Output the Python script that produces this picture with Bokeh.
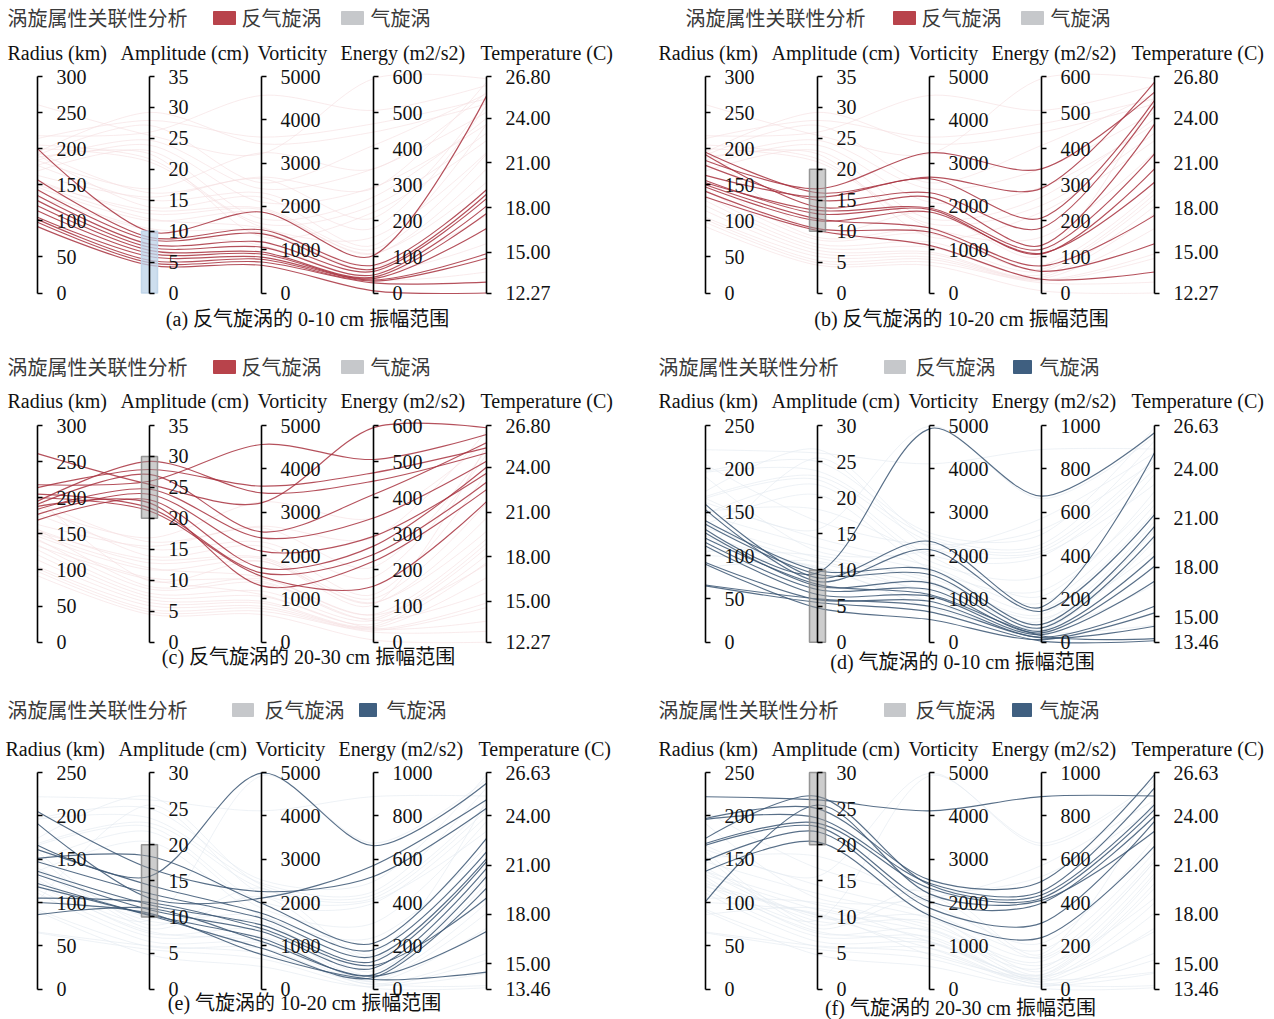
import math

from bokeh.core.properties import value
from bokeh.embed import file_html
from bokeh.models import FixedTicker, LinearAxis, PrintfTickFormatter, Range1d
from bokeh.plotting import figure
from bokeh.resources import INLINE

# ---------------------------------------------------------------- data ----
TITLE = "涡旋属性关联性分析"
SERIES_NAMES = ["反气旋涡", "气旋涡"]
DIM_NAMES = ["Radius (km)", "Amplitude (cm)", "Vorticity", "Energy (m2/s2)", "Temperature (C)"]

# anticyclonic eddies
ac_radius = [200, 157, 143, 135, 128, 121, 114, 105, 102, 98, 92,
             183.7, 195, 163, 176.8, 191.5, 152.8, 156, 146.8, 140.8, 133, 150,
             261, 218, 214, 195, 191, 184, 177, 169, 205, 200, 188]
ac_amplitude = [9.9, 9.0, 8.6, 7.9, 7.4, 6.9, 6.4, 5.9, 5.3, 4.9, 4.5,
                16.85, 16.2, 15.5, 15.0, 13.9, 13.35, 12.8, 11.7, 10.4, 10.1, 12.0,
                25.5, 26.0, 27.9, 29.2, 27.1, 24.7, 23.9, 23.0, 21.7, 21.2, 22.5]
ac_vorticity = [1870, 1460, 1370, 1180, 1060, 946, 900, 830, 780, 715, 640,
                3238, 2677, 2638, 2315, 2215, 1962, 1930, 1870, 1408, 1100, 1500,
                3215, 4562, 3600, 3446, 2546, 2408, 2100, 1715, 1600, 1523, 1300]
ac_energy = [104, 77, 66, 60, 50, 44, 40, 36, 33, 28, 6,
             344, 290, 208, 180, 132, 121, 108, 110, 60, 38, 75,
             594, 506, 469, 446, 409, 344, 293, 266, 243, 155, 224]
ac_temperature = [25.5, 19.2, 18.9, 18.6, 18.1, 17.6, 16.6, 14.9, 14.6, 13.0, 12.27,
                  25.75, 26.43, 25.2, 24.86, 23.6, 21.6, 20.6, 19.7, 15.58, 13.68, 17.48,
                  26.65, 26.2, 25.3, 24.96, 25.64, 24.4, 23.6, 24.0, 23.0, 21.7, 22.5]

# cyclonic eddies
cy_radius = [130, 159, 153, 140, 136, 126, 115, 111, 92, 90, 66, 65, 120,
             166, 205, 191, 151, 161, 147, 136, 132, 122, 118, 105, 86, 100,
             222, 197, 196, 174, 168, 166, 148, 136, 101]
cy_amplitude = [9.6, 8.9, 8.4, 9.9, 9.4, 7.75, 7.3, 6.6, 5.9, 4.75, 6.0, 5.5, 8.0,
                15.6, 16.75, 12.6, 18.4, 14.4, 13.25, 11.7, 11.0, 10.3, 10.2, 12.0, 11.2, 10.5,
                26.2, 25.0, 23.7, 26.7, 23.0, 22.5, 21.8, 20.4, 25.5]
cy_vorticity = [4923, 2330, 2138, 1677, 1562, 1370, 1215, 1062, 946, 523, 830, 700, 1100,
                4985, 2254, 2100, 1985, 1754, 1638, 1485, 1330, 1177, 946, 1400, 1100, 800,
                4115, 2523, 2446, 2408, 2330, 2023, 1870, 1700, 2200]
cy_energy = [674, 162, 143, 82, 66, 51, 43, 35, 23, 12, 20, 5, 30,
             662, 520, 571, 212, 181, 151, 128, 97, 66, 54, 110, 60, 45,
             889, 497, 451, 435, 420, 397, 305, 238, 410]
cy_temperature = [26.19, 24.97, 21.22, 20.5, 19.9, 18.7, 18.08, 17.17, 15.65, 15.24, 14.43, 13.55, 13.68,
                  25.98, 24.46, 24.97, 22.63, 21.8, 21.4, 21.22, 20.8, 20.3, 19.6, 19.0, 16.97, 14.5,
                  25.2, 26.5, 25.7, 24.68, 24.37, 23.97, 23.66, 22.15, 23.06]

# axis extents and tick values
ac_min = [0, 0, 0, 0, 12.27]
ac_max = [300, 35, 5000, 600, 26.80]
ac_ticks = [[0, 50, 100, 150, 200, 250, 300],
            [0, 5, 10, 15, 20, 25, 30, 35],
            [0, 1000, 2000, 3000, 4000, 5000],
            [0, 100, 200, 300, 400, 500, 600],
            [12.27, 15, 18, 21, 24, 26.80]]
cy_min = [0, 0, 0, 0, 13.46]
cy_max = [250, 30, 5000, 1000, 26.63]
cy_ticks = [[0, 50, 100, 150, 200, 250],
            [0, 5, 10, 15, 20, 25, 30],
            [0, 1000, 2000, 3000, 4000, 5000],
            [0, 200, 400, 600, 800, 1000],
            [13.46, 15, 18, 21, 24, 26.63]]

# amplitude window selected in each panel
panel_kind = ["ac", "ac", "ac", "cy", "cy", "cy"]
brush_low = [0, 10, 20, 0, 10, 20]
brush_high = [10, 20, 30, 10, 20, 30]
captions = ["(a) 反气旋涡的 0-10 cm 振幅范围", "(b) 反气旋涡的 10-20 cm 振幅范围",
            "(c) 反气旋涡的 20-30 cm 振幅范围", "(d) 气旋涡的 0-10 cm 振幅范围",
            "(e) 气旋涡的 10-20 cm 振幅范围", "(f) 气旋涡的 20-30 cm 振幅范围"]

# -------------------------------------------------------------- layout ----
W, H = 1274, 1019
ROW_TOP = [76, 425, 772]
ROW_BOT = [292.5, 641.7, 988.7]
COL_AXIS_X = [[37, 149, 261, 373, 486], [705, 817, 929, 1041, 1154]]
PANEL_POS = [(0, 0), (0, 1), (1, 0), (1, 1), (2, 0), (2, 1)]  # (row, col)

TITLE_XY = [(7, 17), (685, 17), (7, 366), (658, 366), (7, 709), (658, 709)]
# legend: (swatch left, swatch right, text x) for the two entries
LEGEND_X = [[(213, 235, 241), (341, 363, 370)],
            [(893, 915, 921), (1021, 1043, 1050)],
            [(213, 235, 241), (341, 363, 370)],
            [(884, 905, 915), (1013, 1031, 1039)],
            [(232, 253, 264), (359, 376, 386)],
            [(884, 905, 915), (1012, 1031, 1039)]]
NAMES_Y = [52, 52, 400, 400, 748, 748]
NAMES_X = [[7, 120, 257, 340, 480], [658, 771, 908, 991, 1131],
           [7, 120, 257, 340, 480], [658, 771, 908, 991, 1131],
           [5, 118, 255, 338, 478], [658, 771, 908, 991, 1131]]
CAPTION_XY = [(307, 318), (961, 318), (308, 656), (962, 661), (304, 1002), (960, 1007)]

RED, GREY, BLUE = "#b8434b", "#c6c8cb", "#3f5f80"
LINE_ON = {"ac": "#a8323f", "cy": "#3b5673"}
LINE_OFF = {"ac": "#f5dde0", "cy": "#e2e9f0"}
BRUSH_FILL = ["#bcd3e8", "#9c9c9c", "#9c9c9c", "#9c9c9c", "#9c9c9c", "#9c9c9c"]
BRUSH_LINE = ["#bcd3e8", "#8c8c8c", "#8c8c8c", "#8c8c8c", "#8c8c8c", "#8c8c8c"]

LATIN = "Liberation Serif"
CJK = "Noto Sans CJK SC"
MIXED = "Liberation Serif, Noto Sans CJK SC"
SMOOTH = 0.3

DATA = {
    "ac": [ac_radius, ac_amplitude, ac_vorticity, ac_energy, ac_temperature],
    "cy": [cy_radius, cy_amplitude, cy_vorticity, cy_energy, cy_temperature],
}
EXTENT = {"ac": (ac_min, ac_max, ac_ticks), "cy": (cy_min, cy_max, cy_ticks)}


def mapped_range(vmin, vmax, ytop, ybot):
    """Range whose [vmin, vmax] lands on page rows [ybot, ytop]."""
    per_px = (vmax - vmin) / (ybot - ytop)
    return Range1d(start=vmin - (H - ybot) * per_px, end=vmin + ybot * per_px)


def smooth_segments(xs, ns, span):
    """Cubic pieces of a smoothed polyline (x in px, y normalised)."""
    pts = [(x, n * span) for x, n in zip(xs, ns)]
    cps = [pts[0]]
    for i in range(1, len(pts) - 1):
        (px, py), (ax, ay), (bx, by) = pts[i - 1], pts[i], pts[i + 1]
        vx, vy = (bx - px) * SMOOTH, (by - py) * SMOOTH
        d0 = math.hypot(ax - px, ay - py)
        d1 = math.hypot(bx - ax, by - ay)
        s = d0 + d1
        if s:
            d0, d1 = d0 / s, d1 / s
        cps.append((ax - vx * d0, ay - vy * d0))
        cps.append((ax + vx * d1, ay + vy * d1))
    cps.append(pts[-1])
    segs = []
    for i in range(len(pts) - 1):
        c1, c2 = cps[2 * i], cps[2 * i + 1]
        segs.append((pts[i][0], pts[i][1] / span, pts[i + 1][0], pts[i + 1][1] / span,
                     c1[0], c1[1] / span, c2[0], c2[1] / span))
    return segs


p = figure(width=W, height=H, x_range=Range1d(0, W), y_range=Range1d(H, 0),
           output_backend="svg", toolbar_location=None, min_border=0,
           x_axis_location=None, y_axis_location=None, outline_line_color=None,
           background_fill_color="white", border_fill_color="white")
p.xgrid.visible = False
p.ygrid.visible = False

extra = {}
for k in range(6):
    row, col = PANEL_POS[k]
    kind = panel_kind[k]
    vmins, vmaxs, ticks = EXTENT[kind]
    cols = DATA[kind]
    ytop, ybot = ROW_TOP[row], ROW_BOT[row]
    axis_x = COL_AXIS_X[col]
    span = ybot - ytop

    norm_name = f"p{k}_norm"
    extra[norm_name] = mapped_range(0.0, 1.0, ytop, ybot)
    for j in range(5):
        extra[f"p{k}_d{j}"] = mapped_range(vmins[j], vmaxs[j], ytop, ybot)

    # lines, split by the amplitude window
    groups = {True: [], False: []}
    for i in range(len(cols[0])):
        vals = [cols[j][i] for j in range(5)]
        ns = [(vals[j] - vmins[j]) / (vmaxs[j] - vmins[j]) for j in range(5)]
        inside = brush_low[k] <= vals[1] <= brush_high[k]
        groups[inside].extend(smooth_segments(axis_x, ns, span))

    for inside, color, alpha, width in ((False, LINE_OFF[kind], 0.6, 1.0),
                                        (True, LINE_ON[kind], 0.85, 1.15)):
        segs = groups[inside]
        if not segs:
            continue
        x0, y0, x1, y1, cx0, cy0, cx1, cy1 = (list(c) for c in zip(*segs))
        p.bezier(x0=x0, y0=y0, x1=x1, y1=y1, cx0=cx0, cy0=cy0, cx1=cx1, cy1=cy1,
                 y_range_name=norm_name, line_color=color, line_alpha=alpha,
                 line_width=width)

    # brush on the amplitude axis
    p.quad(left=[axis_x[1] - 8], right=[axis_x[1] + 8],
           bottom=[brush_low[k]], top=[brush_high[k]], y_range_name=f"p{k}_d1",
           fill_color=BRUSH_FILL[k], fill_alpha=0.5 if k else 0.75,
           line_color=BRUSH_LINE[k], line_alpha=0.9, line_width=1.5)

    # the five vertical axes
    for j in range(5):
        fmt = PrintfTickFormatter(format="%.2f" if j == 4 else "%d")
        ax = LinearAxis(y_range_name=f"p{k}_d{j}", fixed_location=axis_x[j],
                        bounds=(vmins[j], vmaxs[j]), ticker=FixedTicker(ticks=ticks[j]),
                        formatter=fmt, axis_line_color="black", axis_line_width=1.6,
                        major_tick_line_color="black", major_tick_line_width=1.6,
                        major_tick_in=0, major_tick_out=5, minor_tick_line_color=None,
                        major_label_standoff=14, major_label_text_font=LATIN,
                        major_label_text_font_size="20px",
                        major_label_text_color="#111111")
        p.add_layout(ax, "right")

    # header: title, legend, dimension names
    tx, ty = TITLE_XY[k]
    p.text(x=[tx], y=[ty], text=[TITLE], text_font=value(CJK), text_font_size="20px",
           text_color="#3a3a3a", text_align="left", text_baseline="middle")
    swatches = [RED, GREY] if kind == "ac" else [GREY, BLUE]
    for (l, r, txt_x), name, color in zip(LEGEND_X[k], SERIES_NAMES, swatches):
        p.quad(left=[l], right=[r], top=[ty - 6], bottom=[ty + 7],
               fill_color=color, line_color=color, line_width=1)
        p.text(x=[txt_x], y=[ty], text=[name], text_font=value(CJK),
               text_font_size="20px", text_color="#3a3a3a", text_align="left",
               text_baseline="middle")
    p.text(x=NAMES_X[k], y=[NAMES_Y[k]] * 5, text=DIM_NAMES, text_font=value(LATIN),
           text_font_size="20px", text_color="#111111", text_align="left",
           text_baseline="middle")

    cx, cy = CAPTION_XY[k]
    p.text(x=[cx], y=[cy], text=[captions[k]], text_font=value(MIXED),
           text_font_size="20px", text_color="#111111", text_align="center",
           text_baseline="middle")

p.extra_y_ranges = extra

open("out.html", "w").write(file_html(p, INLINE))
